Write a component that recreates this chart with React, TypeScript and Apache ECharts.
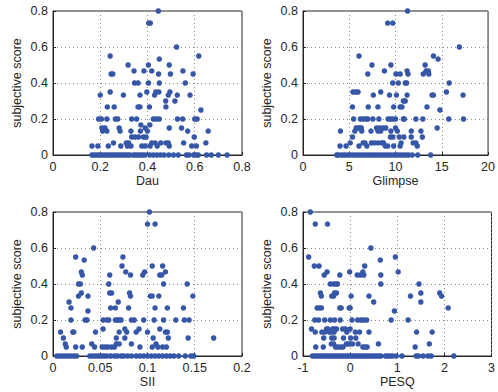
import React, { useEffect, useRef } from "react";
import * as echarts from "echarts";

// ---- data: [x, subjective score] ----
const dauPoints: number[][] = [
  [0.446, 0.8], [0.405, 0.733], [0.412, 0.733], [0.523, 0.6], [0.242, 0.55], [0.617, 0.55], [0.45, 0.533],
  [0.318, 0.5], [0.404, 0.5], [0.492, 0.5],
  [0.343, 0.467], [0.385, 0.467], [0.418, 0.467], [0.55, 0.467],
  [0.246, 0.45], [0.253, 0.45], [0.447, 0.45], [0.497, 0.45], [0.593, 0.45],
  [0.345, 0.4], [0.36, 0.4], [0.404, 0.4], [0.45, 0.4], [0.56, 0.4],
  [0.242, 0.35], [0.397, 0.35], [0.435, 0.35], [0.448, 0.35], [0.495, 0.35],
  [0.2, 0.333], [0.298, 0.333], [0.368, 0.333], [0.43, 0.333], [0.488, 0.333], [0.526, 0.333], [0.58, 0.333],
  [0.477, 0.3], [0.516, 0.3],
  [0.23, 0.267], [0.259, 0.267], [0.36, 0.267], [0.368, 0.267], [0.408, 0.267], [0.478, 0.267],
  [0.626, 0.25],
  [0.193, 0.2], [0.205, 0.2], [0.228, 0.2], [0.264, 0.2], [0.274, 0.2], [0.333, 0.2], [0.354, 0.2], [0.425, 0.2],
  [0.437, 0.2], [0.45, 0.2], [0.527, 0.2], [0.549, 0.2], [0.6, 0.2], [0.61, 0.2],
  [0.372, 0.167], [0.41, 0.167],
  [0.207, 0.15], [0.22, 0.15], [0.28, 0.15], [0.39, 0.15], [0.492, 0.15], [0.544, 0.15],
  [0.21, 0.133], [0.228, 0.133], [0.284, 0.133], [0.33, 0.133], [0.37, 0.133], [0.4, 0.133], [0.57, 0.133], [0.657, 0.133],
  [0.333, 0.1], [0.347, 0.1], [0.362, 0.1], [0.383, 0.1], [0.394, 0.1], [0.598, 0.1],
  [0.256, 0.067], [0.31, 0.067], [0.32, 0.067], [0.418, 0.067], [0.432, 0.067], [0.456, 0.067], [0.478, 0.067],
  [0.488, 0.067], [0.553, 0.067], [0.647, 0.067],
  [0.165, 0.05], [0.19, 0.05], [0.234, 0.05], [0.287, 0.05], [0.315, 0.05], [0.33, 0.05], [0.376, 0.05], [0.39, 0.05],
  [0.411, 0.05], [0.441, 0.05], [0.492, 0.05], [0.587, 0.05], [0.607, 0.05],
];
const dauZeros: number[] = [
  0.165, 0.175, 0.185, 0.195, 0.205, 0.215, 0.225, 0.235, 0.245, 0.255, 0.265, 0.275, 0.285, 0.295, 0.305, 0.315,
  0.325, 0.34, 0.35, 0.36, 0.37, 0.38, 0.39, 0.41, 0.425, 0.44, 0.455, 0.47, 0.49, 0.51, 0.53, 0.565, 0.575, 0.595,
  0.605, 0.615, 0.65, 0.67, 0.7, 0.737,
];

const glimpsePoints: number[][] = [
  [11.3, 0.8], [9.15, 0.733], [9.7, 0.733], [16.9, 0.6], [6.05, 0.55], [14.1, 0.55], [14.6, 0.533],
  [7.45, 0.5], [9.5, 0.5], [13.2, 0.5],
  [8.8, 0.467], [11.25, 0.467], [13.3, 0.467], [13.55, 0.467],
  [7.0, 0.45], [10.05, 0.45], [10.5, 0.45], [11.35, 0.45], [13.0, 0.45], [13.6, 0.45],
  [9.7, 0.4], [10.3, 0.4], [11.05, 0.4], [11.2, 0.4], [15.8, 0.4],
  [5.4, 0.35], [5.7, 0.35], [5.95, 0.35], [8.4, 0.35], [15.5, 0.35],
  [7.6, 0.333], [9.35, 0.333], [10.1, 0.333], [11.25, 0.333], [13.95, 0.333], [14.1, 0.333], [17.3, 0.333],
  [10.85, 0.3], [11.05, 0.3],
  [5.35, 0.267], [7.05, 0.267], [8.1, 0.267], [9.8, 0.267], [10.5, 0.267], [10.7, 0.267], [13.4, 0.267],
  [14.8, 0.25],
  [5.47, 0.2], [6.2, 0.2], [6.5, 0.2], [6.8, 0.2], [7.0, 0.2], [7.55, 0.2], [8.2, 0.2], [9.2, 0.2], [9.45, 0.2],
  [9.7, 0.2], [10.0, 0.2], [10.85, 0.2], [10.95, 0.2], [12.2, 0.2], [12.95, 0.2], [15.75, 0.2], [17.35, 0.2],
  [5.75, 0.15], [5.95, 0.15], [6.15, 0.15], [6.3, 0.15], [7.95, 0.15], [8.3, 0.15], [8.65, 0.15], [8.95, 0.15],
  [10.0, 0.15], [14.5, 0.15],
  [4.05, 0.133], [5.6, 0.133], [6.35, 0.133], [7.35, 0.133], [8.1, 0.133], [8.4, 0.133], [9.5, 0.133], [10.2, 0.133],
  [11.7, 0.133], [12.75, 0.133],
  [5.35, 0.1], [9.45, 0.1], [9.7, 0.1], [10.4, 0.1], [10.9, 0.1], [11.7, 0.1], [12.9, 0.1],
  [5.1, 0.067], [6.5, 0.067], [6.7, 0.067], [7.4, 0.067], [7.7, 0.067], [8.1, 0.067], [8.5, 0.067], [8.7, 0.067],
  [10.6, 0.067], [11.9, 0.067], [12.2, 0.067],
  [4.0, 0.05], [4.65, 0.05], [6.05, 0.05], [6.9, 0.05], [8.9, 0.05], [9.15, 0.05], [9.8, 0.05], [10.5, 0.05], [12.35, 0.05],
];
const glimpseZeros: number[] = [
  3.65, 3.85, 4.2, 4.5, 4.8, 5.1, 5.4, 5.7, 6.0, 6.3, 6.6, 6.9, 7.2, 7.5, 7.8, 8.1, 8.4, 8.7, 9.0, 9.3, 9.6, 9.9,
  10.2, 10.5, 10.8, 11.1, 11.4, 11.8, 12.4, 13.8,
];

const siiPoints: number[][] = [
  [0.102, 0.8], [0.1, 0.733], [0.108, 0.733], [0.043, 0.6], [0.024, 0.55], [0.074, 0.55], [0.033, 0.533],
  [0.073, 0.5], [0.105, 0.5], [0.116, 0.5],
  [0.03, 0.467], [0.077, 0.467], [0.097, 0.467], [0.119, 0.467],
  [0.031, 0.45], [0.06, 0.45], [0.082, 0.45], [0.095, 0.45], [0.113, 0.45], [0.115, 0.45],
  [0.027, 0.4], [0.029, 0.4], [0.059, 0.4], [0.117, 0.4], [0.142, 0.4],
  [0.03, 0.35], [0.06, 0.35], [0.062, 0.35], [0.081, 0.35],
  [0.027, 0.333], [0.037, 0.333], [0.082, 0.333], [0.103, 0.333], [0.105, 0.333], [0.112, 0.333], [0.148, 0.333],
  [0.017, 0.3], [0.069, 0.3],
  [0.019, 0.267], [0.061, 0.267], [0.066, 0.267], [0.08, 0.267], [0.108, 0.267], [0.121, 0.267], [0.138, 0.267],
  [0.037, 0.25],
  [0.019, 0.2], [0.034, 0.2], [0.036, 0.2], [0.053, 0.2], [0.057, 0.2], [0.059, 0.2], [0.066, 0.2], [0.068, 0.2],
  [0.07, 0.2], [0.072, 0.2], [0.083, 0.2], [0.086, 0.2], [0.096, 0.2], [0.107, 0.2], [0.117, 0.2], [0.13, 0.2],
  [0.139, 0.2], [0.144, 0.2],
  [0.053, 0.15], [0.076, 0.15], [0.091, 0.15], [0.113, 0.15],
  [0.008, 0.133], [0.021, 0.133], [0.022, 0.133], [0.045, 0.133], [0.07, 0.133], [0.078, 0.133], [0.088, 0.133],
  [0.1, 0.133], [0.119, 0.133], [0.121, 0.133],
  [0.011, 0.1], [0.067, 0.1], [0.076, 0.1], [0.106, 0.1], [0.122, 0.1], [0.143, 0.1], [0.17, 0.1],
  [0.013, 0.067], [0.041, 0.067], [0.067, 0.067], [0.07, 0.067], [0.083, 0.067], [0.109, 0.067],
  [0.014, 0.05], [0.024, 0.05], [0.031, 0.05], [0.044, 0.05], [0.052, 0.05], [0.055, 0.05], [0.058, 0.05],
  [0.062, 0.05], [0.065, 0.05], [0.092, 0.05], [0.105, 0.05], [0.111, 0.05], [0.116, 0.05], [0.12, 0.05],
];
const siiZeros: number[] = [
  0.004, 0.007, 0.01, 0.013, 0.016, 0.019, 0.022, 0.025, 0.039, 0.042, 0.045, 0.048, 0.051, 0.054, 0.057, 0.061,
  0.065, 0.068, 0.072, 0.075, 0.079, 0.083, 0.088, 0.092, 0.096, 0.1, 0.104, 0.108, 0.112, 0.116, 0.12, 0.124,
  0.128, 0.133, 0.14, 0.146, 0.149,
];

const pesqPoints: number[][] = [
  [-0.845, 0.8], [-0.74, 0.733], [-0.48, 0.733], [0.44, 0.6], [-0.88, 0.55], [0.96, 0.55], [0.64, 0.533],
  [-0.76, 0.5], [-0.66, 0.5], [0.31, 0.5],
  [-0.49, 0.467], [-0.01, 0.467], [0.27, 0.467], [1.02, 0.467],
  [-0.55, 0.45], [-0.22, 0.45], [0.15, 0.45], [0.22, 0.45], [0.29, 0.45], [0.65, 0.45],
  [-0.42, 0.4], [-0.35, 0.4], [-0.3, 0.4], [-0.27, 0.4], [0.65, 0.4], [1.46, 0.4],
  [-0.63, 0.35], [-0.33, 0.35], [-0.29, 0.35], [1.5, 0.35], [1.9, 0.35],
  [-0.61, 0.333], [-0.39, 0.333], [-0.35, 0.333], [0.02, 0.333], [0.4, 0.333], [1.28, 0.333], [1.94, 0.333],
  [0.5, 0.3], [1.5, 0.3],
  [-0.7, 0.267], [-0.65, 0.267], [-0.61, 0.267], [-0.22, 0.267], [-0.19, 0.267], [-0.02, 0.267], [0.0, 0.267], [2.08, 0.267],
  [0.94, 0.25],
  [-0.75, 0.2], [-0.67, 0.2], [-0.54, 0.2], [-0.42, 0.2], [-0.33, 0.2], [-0.21, 0.2], [0.04, 0.2], [0.16, 0.2],
  [0.23, 0.2], [0.28, 0.2], [0.35, 0.2], [0.87, 0.2], [1.23, 0.2],
  [-0.82, 0.15], [-0.5, 0.15], [-0.47, 0.15], [-0.37, 0.15], [-0.33, 0.15], [-0.29, 0.15], [-0.16, 0.15], [-0.1, 0.15], [0.0, 0.15],
  [-0.74, 0.133], [-0.6, 0.133], [-0.54, 0.133], [-0.44, 0.133], [-0.4, 0.133], [-0.34, 0.133], [-0.07, 0.133],
  [0.11, 0.133], [0.2, 0.133], [0.4, 0.133], [1.41, 0.133], [1.74, 0.133],
  [-0.56, 0.1], [-0.39, 0.1], [-0.34, 0.1], [-0.14, 0.1], [0.01, 0.1], [0.12, 0.1],
  [-0.4, 0.067], [-0.35, 0.067], [-0.08, 0.067], [-0.04, 0.067], [0.0, 0.067], [0.05, 0.067], [0.17, 0.067], [0.6, 0.067], [1.68, 0.067],
  [-0.73, 0.05], [-0.57, 0.05], [-0.31, 0.05], [-0.26, 0.05], [-0.2, 0.05], [-0.15, 0.05], [0.27, 0.05], [0.32, 0.05],
  [0.36, 0.05], [1.38, 0.05],
];
const pesqZeros: number[] = [
  -0.8, -0.75, -0.7, -0.65, -0.6, -0.55, -0.5, -0.45, -0.4, -0.35, -0.3, -0.25, -0.2, -0.15, -0.1, -0.05, 0.0, 0.05,
  0.1, 0.15, 0.2, 0.25, 0.3, 0.35, 0.4, 0.45, 0.5, 0.55, 0.6, 0.65, 0.75, 0.8, 0.85, 0.9, 0.98, 1.1, 1.4, 1.45, 1.55,
  1.65, 1.72, 2.2,
];

const panelNames = ["Dau", "Glimpse", "SII", "PESQ"];
const xRanges = [
  [0, 0.8, 0.2],
  [0, 20, 5],
  [0, 0.2, 0.05],
  [-1, 3, 1],
];
const yRange = [0, 0.8, 0.2];
const yName = "subjective score";

const FONT = "Liberation Sans, Arial, Helvetica, sans-serif";
const TEXT = "#262626";
const DOT = "#3657a7";

export default function App() {
  const ref = useRef<HTMLDivElement>(null);
  useEffect(() => {
    if (!ref.current) return;
    const chart = echarts.init(ref.current, undefined, { renderer: "svg" });
    const allPoints = [
      [...dauPoints, ...dauZeros.map((x) => [x, 0])],
      [...glimpsePoints, ...glimpseZeros.map((x) => [x, 0])],
      [...siiPoints, ...siiZeros.map((x) => [x, 0])],
      [...pesqPoints, ...pesqZeros.map((x) => [x, 0])],
    ];
    const lefts = [53, 303, 53, 303];
    const tops = [11, 11, 212, 212];
    const grid = lefts.map((l, i) => ({
      left: l,
      top: tops[i],
      width: 189,
      height: 144,
      show: true,
      borderColor: TEXT,
      borderWidth: 1,
      backgroundColor: "#fff",
    }));
    const splitLine = { show: true, lineStyle: { color: "#8c8c8c", type: [1, 3] as any, width: 1 } };
    const xAxis = panelNames.map((name, i) => ({
      type: "value",
      gridIndex: i,
      min: xRanges[i][0],
      max: xRanges[i][1],
      interval: xRanges[i][2],
      name,
      nameLocation: "middle",
      nameGap: 19,
      nameTextStyle: { fontFamily: FONT, fontSize: 12.5, color: TEXT },
      axisLine: { show: true, onZero: false, lineStyle: { color: TEXT, width: 1 } },
      axisTick: { show: true, inside: true, length: 3, lineStyle: { color: TEXT } },
      axisLabel: { fontFamily: FONT, fontSize: 12.5, color: TEXT, margin: 5 },
      splitLine,
    }));
    const yAxis = panelNames.map((_, i) => ({
      type: "value",
      gridIndex: i,
      min: yRange[0],
      max: yRange[1],
      interval: yRange[2],
      name: yName,
      nameLocation: "middle",
      nameGap: 30,
      nameTextStyle: { fontFamily: FONT, fontSize: 12.5, color: TEXT },
      axisLine: { show: true, onZero: false, lineStyle: { color: TEXT, width: 1 } },
      axisTick: { show: true, inside: true, length: 3, lineStyle: { color: TEXT } },
      axisLabel: { fontFamily: FONT, fontSize: 12.5, color: TEXT, margin: 5 },
      splitLine,
    }));
    const series = allPoints.map((pts, i) => ({
      type: "scatter",
      xAxisIndex: i,
      yAxisIndex: i,
      data: pts,
      symbol: "circle",
      symbolSize: 5.5,
      clip: false,
      itemStyle: { color: DOT, opacity: 1 },
    }));
    chart.setOption({
      animation: false,
      backgroundColor: "#fff",
      grid,
      xAxis,
      yAxis,
      series,
    } as any);
    return () => chart.dispose();
  }, []);
  return (
    <div
      ref={ref}
      style={{ position: "fixed", left: 0, top: 0, width: 498, height: 392 }}
    />
  );
}
